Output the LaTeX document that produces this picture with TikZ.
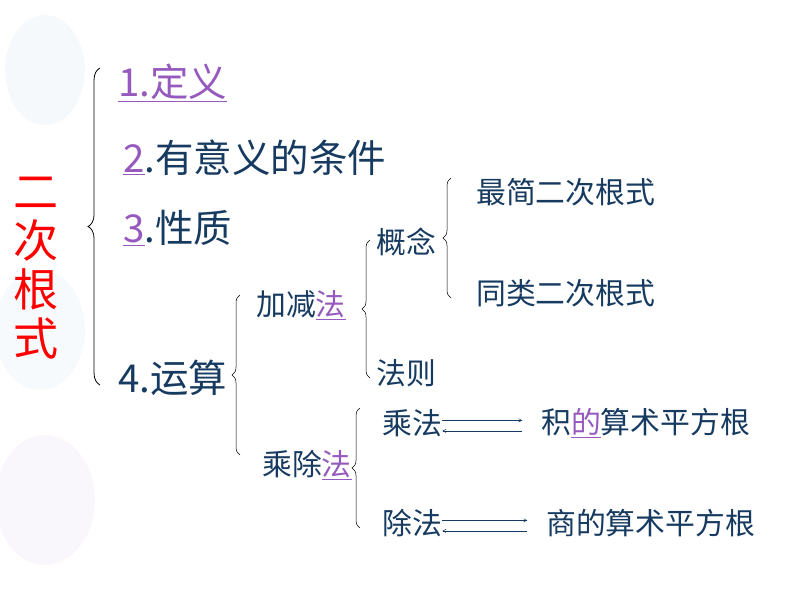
\documentclass[tikz,border=0pt]{standalone}
\usepackage{fontspec}
\newfontfamily\cjk{Noto Sans CJK SC}
\usetikzlibrary{decorations.pathreplacing,arrows.meta}
\definecolor{ink}{RGB}{22,58,96}
\definecolor{lnk}{RGB}{150,90,190}
\definecolor{balloon}{RGB}{225,235,245}
\tikzset{
  txt/.style={anchor=west,inner sep=0pt,text=ink,font=\cjk\fontsize{22.5}{22.5}\selectfont},
  big/.style={anchor=west,inner sep=0pt,text=ink,font=\cjk\fontsize{29}{29}\selectfont},
  brc/.style={decorate,decoration={brace,amplitude=6pt},thin,black},
  eqv/.style={-{Straight Barb[length=2.5pt,width=2.5pt]},thin,ink}
}
\newcommand{\lk}[1]{\textcolor{lnk}{\underline{#1}}}
\begin{document}
\begin{tikzpicture}[x=0.0265cm,y=-0.0265cm]
  \useasboundingbox (0,0) rectangle (794,596);
  % faint balloons
  \fill[balloon,opacity=0.3] (45,70) ellipse (40 and 55);
  \fill[balloon,opacity=0.25] (40,330) ellipse (45 and 60);
  \fill[lnk!15,opacity=0.3] (45,500) ellipse (50 and 65);
  % title
  \node[inner sep=0pt,text=red,align=center,font=\cjk\fontsize{34}{37}\selectfont] (title) at (36,268) {二\\次\\根\\式};
  \draw[brc,semithick,decoration={amplitude=9pt}] (100,385) -- (100,68) coordinate (b1);
  % level 1
  \node[big] (def) at (118,83) {\lk{1.定义}};
  \node[big] (cond) at (123,158) {\lk{2}.有意义的条件};
  \node[big] (prop) at (123,228) {\lk{3}.性质};
  \node[big] (op) at (118,378) {4.运算};
  % level 2
  \draw[brc] (240,455) -- (240,295);
  \node[txt] (add) at (256,305) {加减\lk{法}};
  \node[txt] (mul) at (262,465) {乘除\lk{法}};
  % add/sub
  \draw[brc] (370,378) -- (370,240);
  \node[txt] (concept) at (376,242) {概念};
  \node[txt] (rule) at (376,373) {法则};
  \draw[brc] (451,298) -- (451,178);
  \node[txt] (simp) at (476,192) {最简二次根式};
  \node[txt] (same) at (476,293) {同类二次根式};
  % mul/div
  \draw[brc] (360,528) -- (360,408);
  \node[txt] (times) at (382,423) {乘法};
  \node[txt] (prod) at (541,423) {积\lk{的}算术平方根};
  \node[txt] (div) at (382,523) {除法};
  \node[txt] (quot) at (546,523) {商的算术平方根};
  \draw[eqv] ([yshift=2pt]times.east) -- ([yshift=2pt,xshift=-14pt]prod.west);
  \draw[eqv] ([yshift=-6pt,xshift=-14pt]prod.west) -- ([yshift=-6pt]times.east);
  \draw[eqv] ([yshift=2pt]div.east) -- ([yshift=2pt,xshift=-14pt]quot.west);
  \draw[eqv] ([yshift=-6pt,xshift=-14pt]quot.west) -- ([yshift=-6pt]div.east);
\end{tikzpicture}
\end{document}
